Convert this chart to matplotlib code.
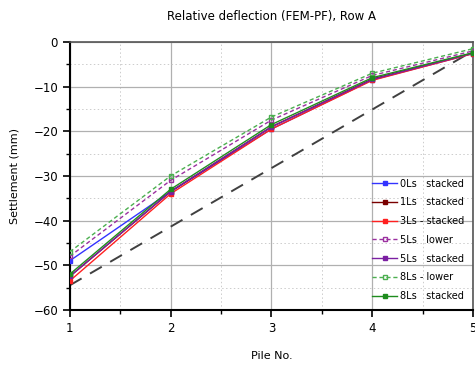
import numpy as np
import matplotlib.pyplot as plt
from matplotlib.ticker import MultipleLocator

piles = [1, 2, 3, 4, 5]

s0_stacked = [-49.0, -33.5, -19.5, -8.5, -2.6]
s1_stacked = [-52.5, -33.5, -19.0, -8.3, -2.5]
s3_stacked = [-53.5, -34.0, -19.5, -8.6, -2.6]
s5_lower = [-48.0, -31.0, -17.5, -7.5, -2.0]
s5_stacked = [-52.5, -33.5, -19.0, -8.4, -2.5]
s8_lower = [-47.0, -30.0, -16.8, -7.0, -1.5]
s8_stacked = [-52.0, -33.0, -18.5, -8.0, -2.4]

# straight reference line between the end piles
ref_x = [1, 5]
ref_y = [-54.5, -2.0]

fig = plt.figure(figsize=(4.75, 3.68), dpi=100)
ax = fig.add_axes([0.147, 0.158, 0.849, 0.728])

ax.plot(ref_x, ref_y, color='#404040', lw=1.4, ls=(0, (7, 5)), zorder=2)

series = [
    (s0_stacked, '0Ls   stacked', '#3333ff', '-', 'full'),
    (s1_stacked, '1Ls   stacked', '#7a0000', '-', 'full'),
    (s3_stacked, '3Ls - stacked', '#ff2020', '-', 'full'),
    (s5_lower, '5Ls   lower', '#9b30a0', (0, (3, 2)), 'none'),
    (s5_stacked, '5Ls   stacked', '#7b1fa2', '-', 'full'),
    (s8_lower, '8Ls - lower', '#4caf50', (0, (3, 2)), 'none'),
    (s8_stacked, '8Ls   stacked', '#1e8c1e', '-', 'full'),
]
for vals, lab, col, ls, fill in series:
    ax.plot(piles, vals, color=col, lw=1.0, ls=ls, marker='s', ms=3,
            fillstyle=fill, mfc=col if fill == 'full' else 'white', mec=col,
            label=lab, zorder=3)

ax.set_xlim(1, 5)
ax.set_ylim(-60, 0)
ax.xaxis.set_major_locator(MultipleLocator(1))
ax.xaxis.set_minor_locator(MultipleLocator(0.5))
ax.yaxis.set_major_locator(MultipleLocator(10))
ax.yaxis.set_minor_locator(MultipleLocator(5))

ax.grid(which='major', color='#b0b0b0', lw=0.9)
ax.grid(which='minor', color='#cccccc', lw=0.7, ls=(0, (1.5, 2.5)))
ax.set_axisbelow(True)

for side in ['left', 'bottom']:
    ax.spines[side].set_linewidth(1.5)
    ax.spines[side].set_color('black')
for side in ['top', 'right']:
    ax.spines[side].set_linewidth(1.2)
    ax.spines[side].set_color('#555555')

ax.tick_params(which='major', direction='out', length=5, width=1.2, labelsize=8.5)
ax.tick_params(which='minor', direction='out', length=3, width=1.0)

ax.set_title('Relative deflection (FEM-PF), Row A', fontsize=8.5, pad=16)
ax.set_xlabel('Pile No.', fontsize=8, labelpad=12)
ax.set_ylabel('Settlement (mm)', fontsize=8, labelpad=10)

ax.legend(loc='lower right', bbox_to_anchor=(1.0, 0.0), frameon=False,
          fontsize=7, handlelength=2.6, labelspacing=0.9, borderaxespad=0.5,
          handletextpad=0.3)

fig.savefig('out.png', dpi=100)
